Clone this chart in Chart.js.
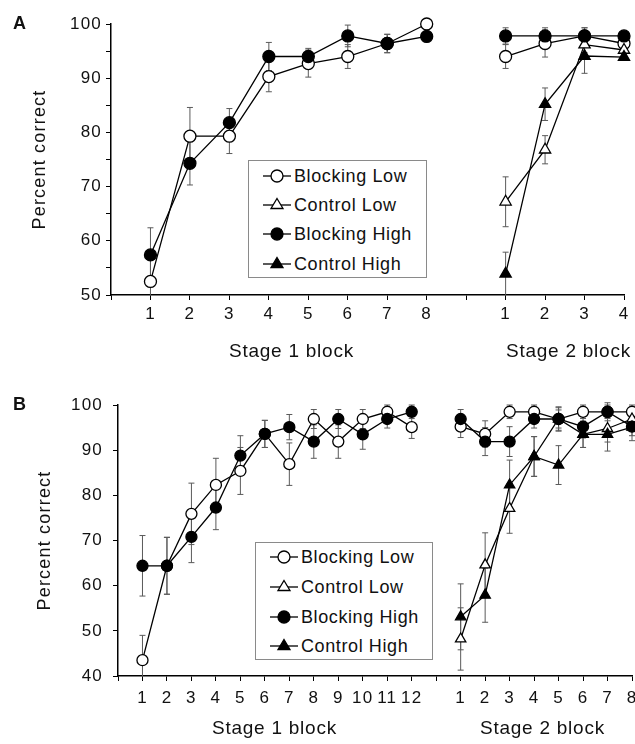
<!DOCTYPE html>
<html><head><meta charset="utf-8">
<script src="https://cdn.jsdelivr.net/npm/chart.js@4.4.1/dist/chart.umd.min.js"></script>
<style>
body{margin:0;background:#fff;font-family:'Liberation Sans',Arial,sans-serif;}
#wrap{position:relative;width:635px;height:744px;overflow:hidden;background:#fff;}
canvas{position:absolute;left:0;}
.txt{position:absolute;color:#111;white-space:nowrap;font-size:19px;letter-spacing:0.75px;}
.letter{position:absolute;font-weight:bold;font-size:18px;color:#111;}
.legend{position:absolute;border:1px solid #8a8a8a;background:#fff;box-sizing:border-box;}
.row{position:absolute;left:0;height:20px;white-space:nowrap;font-size:18px;letter-spacing:0.6px;color:#111;}
.row svg{position:absolute;left:12px;top:0;}
.row span{position:absolute;left:45px;top:-1px;line-height:22px;}
</style></head>
<body>
<div id="wrap">
  <canvas id="chartA" width="650" height="345" style="top:0"></canvas>
  <canvas id="chartB" width="650" height="384" style="top:360px"></canvas>
  <div class="letter" style="left:13px;top:13px">A</div>
  <div class="letter" style="left:13px;top:394px">B</div>
  <div class="txt" style="left:229px;top:340px">Stage 1 block</div>
  <div class="txt" style="left:506px;top:340px">Stage 2 block</div>
  <div class="txt" style="left:212px;top:717px">Stage 1 block</div>
  <div class="txt" style="left:480px;top:717px">Stage 2 block</div>
  <div class="legend" id="legA" style="left:248px;top:160px;width:179px;height:118px"></div>
  <div class="legend" id="legB" style="left:255px;top:542px;width:178px;height:118px"></div>
</div>
<script>
// ---------- DATA ----------
const seriesNames = ['Blocking Low', 'Control Low', 'Blocking High', 'Control High'];

// Panel A
const stage1LabelsA = ['1','2','3','4','5','6','7','8'];
const stage2LabelsA = ['1','2','3','4'];
const blockingLowA1  = [52.5, 79.3, 79.3, 90.3, 92.7, 94.0, 96.4, 100];
const blockingLowA1Err = [4.5, 5.3, 3.2, 2.8, 2.5, 2.2, 1.7, 0];
const blockingHighA1 = [57.4, 74.3, 81.8, 94.0, 94.0, 97.8, 96.4, 97.7];
const blockingHighA1Err = [5.0, 4.0, 2.6, 2.6, 1.5, 2.0, 1.7, 0];
const blockingLowA2  = [94.0, 96.4, 97.8, 96.4];
const blockingLowA2Err = [2.2, 2.5, 1.5, 0];
const controlLowA2   = [67.2, 76.8, 96.2, 95.2];
const controlLowA2Err = [4.6, 2.6, 1.5, 0];
const blockingHighA2 = [97.8, 97.8, 97.8, 97.8];
const blockingHighA2Err = [1.5, 1.5, 1.5, 0];
const controlHighA2  = [53.9, 85.2, 94.1, 93.9];
const controlHighA2Err = [4.0, 3.0, 3.2, 0];

// Panel B
const stage1LabelsB = ['1','2','3','4','5','6','7','8','9','10','11','12'];
const stage2LabelsB = ['1','2','3','4','5','6','7','8'];
const blockingLowB1  = [43.5, 64.4, 75.9, 82.3, 85.4, 93.6, 86.9, 96.9, 91.9, 96.9, 98.5, 95.1];
const blockingLowB1Err = [5.5, 6.3, 6.8, 5.9, 5.2, 3.0, 4.7, 2.1, 3.7, 2.1, 1.5, 2.5];
const blockingHighB1 = [64.4, 64.4, 70.8, 77.3, 88.8, 93.6, 95.1, 91.9, 96.9, 93.5, 96.9, 98.5];
const blockingHighB1Err = [6.7, 6.3, 5.7, 4.9, 4.4, 3.0, 2.8, 3.7, 2.1, 3.3, 2.0, 1.5];
const blockingLowB2  = [95.2, 93.6, 98.5, 98.5, 96.9, 98.5, 98.5, 98.5];
const blockingLowB2Err = [2.4, 2.9, 1.5, 1.5, 2.0, 1.5, 1.5, 1.5];
const controlLowB2   = [48.2, 64.6, 77.1, 88.6, 96.9, 93.5, 94.8, 96.9];
const controlLowB2Err = [6.9, 7.1, 5.5, 4.4, 2.5, 2.9, 3.0, 2.5];
const blockingHighB2 = [96.9, 91.9, 91.9, 96.9, 96.9, 95.2, 98.5, 95.2];
const blockingHighB2Err = [2.1, 3.1, 3.3, 2.0, 2.7, 2.5, 2.0, 2.0];
const controlHighB2  = [53.1, 57.9, 82.3, 88.6, 86.7, 93.5, 93.5, 95.1];
const controlHighB2Err = [7.3, 6.0, 5.5, 4.4, 4.3, 2.9, 3.7, 3.0];

// ---------- BUILD ----------
const FONT = "'Liberation Sans', Arial, sans-serif";
function joinStages(s1, s2, n1) {
  const a = s1 ? s1 : new Array(n1).fill(null);
  return [null].concat(a, [null], s2);
}
function axisLabels(l1, l2) { return [''].concat(l1, [''], l2); }

const styles = [
  {pointStyle:'circle',   bg:'#fff', r:6,   order:4},
  {pointStyle:'triangle', bg:'#fff', r:6.5, order:3},
  {pointStyle:'circle',   bg:'#000', r:6,   order:2},
  {pointStyle:'triangle', bg:'#000', r:6.5, order:1}
];

function makeDataset(i, data, errors, rScale) {
  const s = styles[i];
  return {
    label: seriesNames[i], data: data, errors: errors,
    borderColor:'#000', borderWidth:1.3, tension:0, fill:false, spanGaps:false, clip:false,
    pointStyle:s.pointStyle, pointRadius:s.r*rScale, pointHoverRadius:s.r*rScale,
    pointBackgroundColor:s.bg, pointBorderColor:'#000', pointBorderWidth:1.3, order:s.order
  };
}

const errorBarPlugin = {
  id:'errorBars',
  beforeDatasetsDraw(chart) {
    const ctx = chart.ctx, ys = chart.scales.y, a = chart.chartArea;
    ctx.save();
    ctx.beginPath();
    ctx.rect(a.left - 10, a.top - 10, a.right - a.left + 20, a.bottom - a.top + 10);
    ctx.clip();
    ctx.strokeStyle = '#5a5a5a';
    ctx.lineWidth = 1;
    chart.data.datasets.forEach((ds, i) => {
      const meta = chart.getDatasetMeta(i);
      ds.data.forEach((v, j) => {
        const e = ds.errors[j];
        if (v == null || e == null || e === 0) return;
        const x = meta.data[j].x;
        const t = ys.getPixelForValue(v + e), b = ys.getPixelForValue(v - e);
        ctx.beginPath();
        ctx.moveTo(x, t); ctx.lineTo(x, b);
        ctx.moveTo(x - 3, t); ctx.lineTo(x + 3, t);
        ctx.moveTo(x - 3, b); ctx.lineTo(x + 3, b);
        ctx.stroke();
      });
    });
    ctx.restore();
  }
};
const spacingPlugin = {
  id:'spacing',
  beforeDraw(chart) { try { chart.ctx.letterSpacing = '1.2px'; } catch(e) {} }
};

function makeChart(id, labels, datasets, cfg) {
  return new Chart(document.getElementById(id), {
    type:'line',
    data:{labels:labels, datasets:datasets},
    plugins:[spacingPlugin, errorBarPlugin],
    options:{
      responsive:false, animation:false, devicePixelRatio:1,
      layout:{padding:{top:cfg.padTop, right:cfg.padRight, left:0, bottom:0}},
      plugins:{legend:{display:false}, tooltip:{enabled:false}},
      scales:{
        x:{
          type:'category', offset:false,
          grid:{display:true, drawOnChartArea:false, drawTicks:true, tickLength:5, color:'#000', lineWidth:1, offset:false},
          border:{display:true, color:'#000', width:1.5},
          ticks:{autoSkip:false, maxRotation:0, minRotation:0, padding:cfg.xPad, color:'#111', font:{family:FONT, size:17}},
          afterFit(s){ s.height = cfg.xHeight; s.paddingLeft = 0; s.paddingRight = 0; }
        },
        y:{
          type:'linear', min:cfg.yMin, max:100,
          grid:{display:true, drawOnChartArea:false, drawTicks:true, tickLength:5, color:'#000', lineWidth:1},
          border:{display:true, color:'#000', width:1.5},
          ticks:{stepSize:5, padding:cfg.yPad, color:'#111', font:{family:FONT, size:17},
                 callback:(v)=> (v % 10 === 0 ? String(v) : '')},
          title:{display:true, text:'Percent correct', color:'#111', font:{family:FONT, size:18}, padding:{top:cfg.titlePad, bottom:0}},
          afterFit(s){ s.width = cfg.yWidth; s.paddingTop = 0; s.paddingBottom = 0; }
        }
      }
    }
  });
}

const n1A = stage1LabelsA.length, n1B = stage1LabelsB.length;
makeChart('chartA', axisLabels(stage1LabelsA, stage2LabelsA), [
  makeDataset(0, joinStages(blockingLowA1, blockingLowA2, n1A), joinStages(blockingLowA1Err, blockingLowA2Err, n1A), 1),
  makeDataset(1, joinStages(null, controlLowA2, n1A), joinStages(null, controlLowA2Err, n1A), 1),
  makeDataset(2, joinStages(blockingHighA1, blockingHighA2, n1A), joinStages(blockingHighA1Err, blockingHighA2Err, n1A), 1),
  makeDataset(3, joinStages(null, controlHighA2, n1A), joinStages(null, controlHighA2Err, n1A), 1)
], {padTop:24, padRight:26, xHeight:50, yWidth:111, yMin:50, xPad:4, yPad:4, titlePad:29});

makeChart('chartB', axisLabels(stage1LabelsB, stage2LabelsB), [
  makeDataset(0, joinStages(blockingLowB1, blockingLowB2, n1B), joinStages(blockingLowB1Err, blockingLowB2Err, n1B), 0.92),
  makeDataset(1, joinStages(null, controlLowB2, n1B), joinStages(null, controlLowB2Err, n1B), 0.92),
  makeDataset(2, joinStages(blockingHighB1, blockingHighB2, n1B), joinStages(blockingHighB1Err, blockingHighB2Err, n1B), 0.92),
  makeDataset(3, joinStages(null, controlHighB2, n1B), joinStages(null, controlHighB2Err, n1B), 0.92)
], {padTop:45, padRight:18, xHeight:68, yWidth:118, yMin:40, xPad:7, yPad:10, titlePad:34});

// ---------- LEGENDS ----------
function symbolSvg(i) {
  const s = styles[i];
  let m;
  if (s.pointStyle === 'circle') m = '<circle cx="16" cy="10" r="6" fill="'+s.bg+'" stroke="#000" stroke-width="1.3"/>';
  else m = '<polygon points="16,3.5 22,13.5 10,13.5" fill="'+s.bg+'" stroke="#000" stroke-width="1.3"/>';
  return '<svg width="32" height="20"><line x1="2" y1="10" x2="30" y2="10" stroke="#000" stroke-width="1.3"/>'+m+'</svg>';
}
function buildLegend(id, rowTops) {
  const el = document.getElementById(id);
  seriesNames.forEach((n, i) => {
    const r = document.createElement('div');
    r.className = 'row';
    r.style.top = rowTops[i] + 'px';
    r.style.width = '100%';
    r.innerHTML = symbolSvg(i) + '<span>' + n + '</span>';
    el.appendChild(r);
  });
}
buildLegend('legA', [5, 34, 63, 93]);
buildLegend('legB', [4, 34, 64, 93]);
</script>
</body></html>
